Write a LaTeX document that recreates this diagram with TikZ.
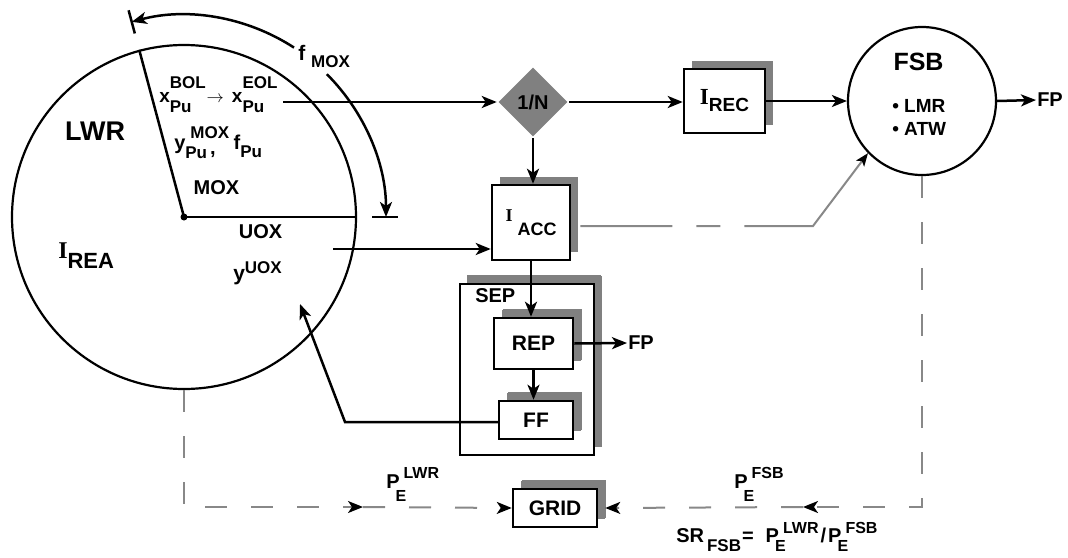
\documentclass[tikz,border=0pt]{standalone}
\usepackage{fontspec}
\setmainfont{Liberation Sans}
\newfontfamily\tms{Liberation Serif}
\usetikzlibrary{arrows.meta,shapes.geometric,shadows,calc}
\definecolor{shgray}{RGB}{128,128,128}
\definecolor{lngray}{RGB}{136,136,136}
\newcommand\fs[1]{\fontsize{#1}{#1}\selectfont}
\newsavebox\supb
\newsavebox\subb
% \SupSub{base}{sup}{sub}{raise}{lower}{size}
\newcommand\SupSub[6]{#1\sbox\supb{\fs{#6}#2}\sbox\subb{\fs{#6}#3}%
  \rlap{\raisebox{#4}{\usebox\supb}}\raisebox{-#5}{\usebox\subb}%
  \ifdim\wd\supb>\wd\subb\hspace{\dimexpr\wd\supb-\wd\subb\relax}\fi}
% \PE{sup}{lower}{raise}
\newcommand\PE[3]{P\rlap{\hspace{-4pt}\raisebox{-#2}{\fs{16}E}}\hspace{4pt}\raisebox{#3}{\fs{16}#1}}
\begin{document}
\begin{tikzpicture}[x=1pt,y=1pt,line width=2.5pt,
  >={Stealth[length=15pt,width=12pt,inset=4pt]},
  txt/.style={inner sep=0pt,font=\fs{20}\bfseries},
  box/.style={draw,fill=white,line width=2.5pt,inner sep=0pt,font=\fs{21}\bfseries,
    general shadow={fill=shgray,draw=none,shadow xshift=8pt,shadow yshift=8pt}},
  ring/.style={circle,draw,line width=2.2pt,inner sep=0pt},
  dashline/.style={draw=lngray,line width=2pt,dash pattern=on 22pt off 24pt},
  gtip/.style={-{Stealth[length=15pt,width=12pt,inset=4pt,black]}}]
\useasboundingbox (0,0) rectangle (1068,-557);

% ---------- LWR ----------
\node[ring,minimum size=344pt] (LWR) at (184,-217) {};
\draw (LWR.center) -- (LWR.105);
\draw (LWR.center) -- (LWR.east);
\fill (LWR.center) circle (3.5pt);
\draw ($(LWR.center)+(105:190)$) -- ($(LWR.center)+(105:214)$);
\draw ($(LWR.center)+(188,0)$) -- ($(LWR.center)+(214,0)$);
\draw[<-] ($(LWR.center)+(105:202)$) arc[start angle=105,end angle=57,radius=202pt];
\draw[->] ($(LWR.center)+(45:202)$) arc[start angle=45,end angle=0,radius=202pt];

\node[txt,font=\fs{21}\bfseries,anchor=base west] (fmox) at (297,-60) {f\hspace{6pt}\raisebox{-7pt}{\fs{17}MOX}};
\node[txt,font=\fs{27}\bfseries] (lwrt) at (95,-131) {LWR};
\node[txt,anchor=base west] (irea) at (57,-258) {{\tms\fs{24}I}\raisebox{-10pt}{\fs{22}REA}};
\node[txt,font=\fs{19}\bfseries,anchor=base west] (xpu) at (158,-102)
  {\SupSub{x}{BOL}{Pu}{14pt}{10pt}{17}\hspace{1pt}$\rightarrow$\hspace{8pt}\SupSub{x}{EOL}{Pu}{14pt}{10pt}{17}};
\node[txt,font=\fs{20}\bfseries,anchor=base west] (ypu) at (173,-149)
  {y\rlap{\hspace{5pt}\raisebox{11pt}{\fs{17}MOX}}\raisebox{-9pt}{\fs{17}Pu}\hspace{3pt}\raisebox{-5pt}{,}\hspace{18pt}f\raisebox{-8pt}{\fs{17}Pu}};
\node[txt] (moxt) at (216.5,-187.5) {MOX};
\node[txt] (uoxt) at (260.5,-231.5) {UOX};
\node[txt,font=\fs{21}\bfseries,anchor=base west] (yuoxt) at (232,-280) {y\raisebox{7pt}{\fs{17}UOX}};
\coordinate (xeol) at (283,-102);
\coordinate (yuox) at (333,-249);

% ---------- boxes ----------
\node[diamond,fill=shgray,minimum width=70pt,minimum height=70pt,inner sep=0pt,font=\fs{20}\bfseries] (DIA) at (533,-102) {1/N};
\node[box,minimum width=81pt,minimum height=64pt] (IREC) at (724.5,-101)
  {{\tms\fs{23}I}\raisebox{-7pt}{\fs{19}REC}};
\node[box,minimum width=78pt,minimum height=75pt] (IACC) at (531,-222.5)
  {{\tms\fs{18}I}\hspace{5pt}\raisebox{-14pt}{\fs{18}ACC}};
\node[box,minimum width=134pt,minimum height=171pt,general shadow={fill=shgray,draw=none,shadow xshift=7pt,shadow yshift=9pt}] (SEP) at (527,-369.5) {};
\node[txt,anchor=base west] (sept) at (474,-302) {SEP};
\node[box,minimum width=79pt,minimum height=51pt,general shadow={fill=shgray,draw=none,shadow xshift=9pt,shadow yshift=9pt}] (REP) at (533.5,-343.5) {REP};
\node[box,minimum width=74pt,minimum height=38pt,general shadow={fill=shgray,draw=none,shadow xshift=9pt,shadow yshift=9pt}] (FF) at (536,-420) {FF};
\node[box,minimum width=84pt,minimum height=38pt,general shadow={fill=shgray,draw=none,shadow xshift=9pt,shadow yshift=9pt}] (GRID) at (555,-508) {GRID};

% ---------- FSB ----------
\node[ring,minimum size=148pt] (FSB) at (922,-101) {};
\node[txt,font=\fs{25}\bfseries] (fsbt) at (918.5,-62) {FSB};
\node[txt,font=\fontsize{19}{23}\selectfont\bfseries,anchor=west,align=left] (fsbl) at (891,-117) {\textbullet\ LMR\\\textbullet\ ATW};
\node[txt,anchor=west] (FP1) at (1036,-100) {FP};
\node[txt,anchor=west] (FP2) at (627,-343) {FP};

% ---------- connectors ----------
\draw[->] (xeol) -- (DIA.west);
\draw[->] (DIA.east) -- (DIA.east -| IREC.west);
\draw[->] (IREC.east) -- (FSB.west);
\draw[->] (FSB.east) -- (FP1.west);
\draw[->] (DIA.south) -- (DIA.south |- IACC.north);
\draw[->] (yuox) -- (yuox -| IACC.west);
\draw[->] (IACC.south) -- (IACC.south |- REP.north);
\draw[->] (REP.south) -- (REP.south |- FF.north);
\draw[->] (REP.east) -- (FP2.west);
\coordinate (ffc) at (345,-422);
\coordinate (lwrin) at (300,-304);
\draw[->] ([yshift=-2pt]FF.west) -- (ffc) -- (lwrin);

\coordinate (gbend) at (813,-226);
\draw[draw=lngray,line width=2pt,dash pattern=on 92pt off 24pt on 24pt off 24pt on 400pt,
  -{Stealth[length=13pt,width=10pt,inset=3pt,black]}]
  ([xshift=9pt,yshift=-3.5pt]IACC.east) -- (gbend) -- (FSB.224);

\coordinate (la) at (363,-507);
\coordinate (ra) at (803,-507);
\draw[dashline,gtip] (LWR.south) |- (la);
\draw[dashline,gtip] (la) -- (GRID.west);
\draw[dashline,gtip] (FSB.south) |- (ra);
\draw[dashline,gtip] (ra) -- ([xshift=7pt]GRID.east);

% ---------- power labels ----------
\node[txt,anchor=base west] (pel) at (385,-488) {\PE{LWR}{13pt}{10pt}};
\node[txt,anchor=base west] (pef) at (733,-488) {\PE{FSB}{13pt}{10pt}};
\node[txt,anchor=base west] (srf) at (675,-542)
  {SR\hspace{3pt}\raisebox{-9pt}{\fs{17}FSB}\hspace{1pt}=\hspace{12pt}\PE{LWR}{9pt}{9pt}\hspace{2pt}/\hspace{2pt}\PE{FSB}{9pt}{9pt}};
\end{tikzpicture}
\end{document}
